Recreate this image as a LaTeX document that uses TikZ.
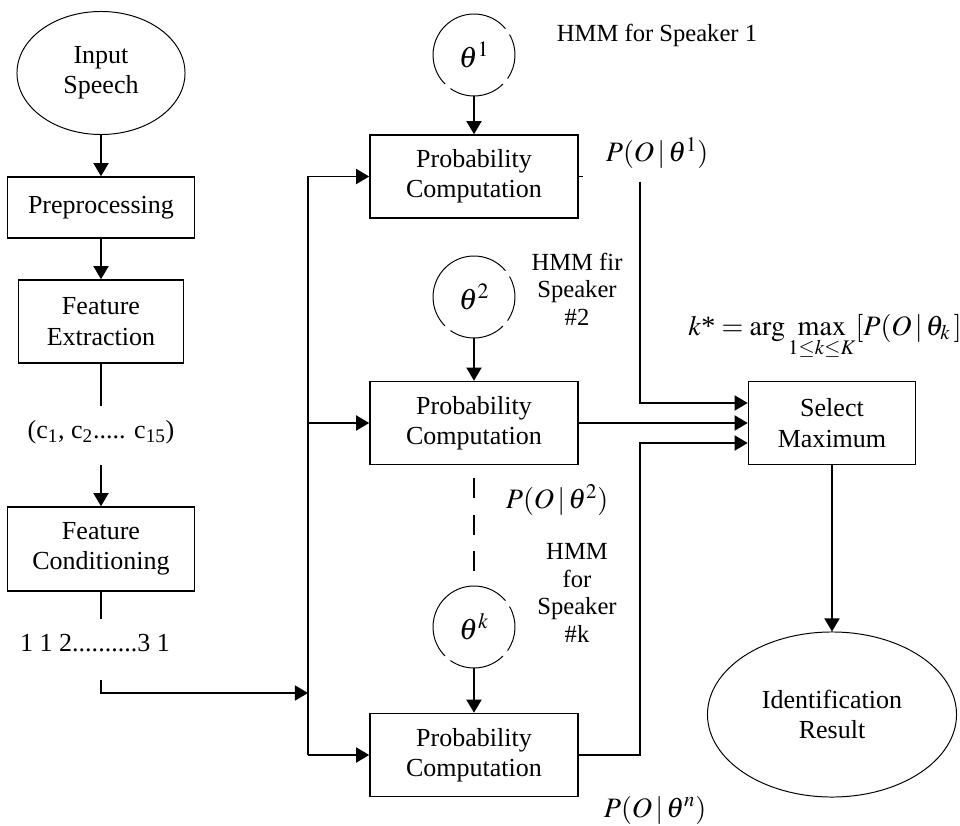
\documentclass[tikz,border=0pt]{standalone}
\usepackage{mathptmx}
\usepackage{fontspec}
\setmainfont{Liberation Serif}
\usetikzlibrary{shapes.geometric,arrows.meta}

\begin{document}
\begin{tikzpicture}[x=0.025cm,y=0.025cm,
  font=\fontsize{18.5}{21.5}\selectfont,
  proc/.style={draw,rectangle,line width=1.1pt,align=center,minimum width=5.2cm,minimum height=2.075cm,inner sep=0},
  term/.style={draw,ellipse,line width=0.7pt,align=center,inner sep=0},
  lbl/.style={align=center,inner sep=0},
  hmm/.style={align=center,inner sep=0,font=\fontsize{17.5}{19.6}\selectfont},
  mth/.style={inner sep=0,font=\fontsize{20}{24}\selectfont},
  arr/.style={line width=1.1pt,-{Triangle[length=0.33cm,width=0.38cm]}},
  ln/.style={line width=1.1pt}]
\useasboundingbox (0,0) rectangle (960,825);

% front end
\node [term,minimum width=4.2cm,minimum height=3.075cm] (sp) at (101,752) {Input\\Speech};
\node [proc,minimum width=4.675cm,minimum height=1.525cm] (pre) at (101,617.5) {Preprocessing};
\node [proc,minimum width=4.125cm] (fe) at (101,503.5) {Feature\\Extraction};
\node [lbl] (cv) at (101,393) {(c\textsubscript{1}, c\textsubscript{2}..... c\textsubscript{15})};
\node [proc,minimum width=4.675cm,minimum height=2.1cm] (fc) at (101,276) {Feature\\Conditioning};
\node [lbl] (seq) at (95,182) {1 1 2..........3 1};
\coordinate (bin) at (308,132);

\draw[arr] (sp) -- (pre);
\draw[arr] (pre) -- (fe);
\draw[ln] (fe.south) -- ++(0,-42);
\draw[arr] (fc.north) ++(0,41) -- (fc.north);
\draw[ln] (fc.south) -- ++(0,-27);
\draw[arr] (fc.south) ++(0,-88) |- (bin);

% probability blocks
\node [proc] (pc1) at (474,648.5) {Probability\\Computation};
\node [proc] (pc2) at (474,402) {Probability\\Computation};
\node [proc] (pc3) at (474,70) {Probability\\Computation};
\draw[arr] (pc3.west -| bin) |- (pc1.west);
\draw[arr] (bin |- pc2) -- (pc2.west);
\draw[arr] (bin |- pc3) -- (pc3.west);

% speaker models
\foreach \n/\y/\s in {t1/770/1,t2/528/2,tk/198/k} {
  \node [circle,minimum size=2.05cm,inner sep=0,font=\fontsize{21}{24}\selectfont] (\n) at (474,\y) {$\theta^{\s}$};
  \foreach \a/\b in {40/225,235/315,325/390}
    \draw[line width=0.7pt] ([shift={(\a:41)}]\n.center) arc[start angle=\a,end angle=\b,radius=41];
}
\draw[arr] (t1) -- (pc1);
\draw[arr] (t2) -- (pc2);
\draw[arr] (tk) -- (pc3);
\draw[ln,dash pattern=on 14pt off 12pt,shorten <=0.325cm,shorten >=0.225cm] (pc2) -- (tk);

\node [hmm] (h1) at (657,790) {HMM for Speaker 1};
\node [hmm] (h2) at (577,536) {HMM fir\\Speaker\\\#2};
\node [hmm] (hk) at (577,232) {HMM\\for\\Speaker\\\#k};
\node [mth] (p1) at (657,672) {$P(O\,|\,\theta^{1})$};
\node [mth] (p2) at (557,325) {$P(O\,|\,\theta^{2})$};
\node [mth] (pn) at (655,15) {$P(O\,|\,\theta^{n})$};
\node [mth,anchor=base west] (ks) at (688,490) {$k\mbox{*}=\arg\max\limits_{1\le k\le K}[P(O\,|\,\theta_{k}\,]$};

% decision
\node [proc,minimum width=4.175cm] (sm) at (832,402) {Select\\Maximum};
\node [term,minimum width=6.225cm,minimum height=4.125cm] (res) at (832,110.5) {Identification\\Result};
\coordinate (o1) at (640,643);
\draw[ln] (pc1.east) -- ++(4,0);
\draw[arr] (o1) |- ([yshift=0.5cm]sm.west);
\draw[arr] (pc2.east) -- (sm.west);
\draw[arr] (pc3.east) -- (pc3.east -| o1) |- ([yshift=-0.5cm]sm.west);
\draw[arr] (sm) -- (res);
\end{tikzpicture}
\end{document}
